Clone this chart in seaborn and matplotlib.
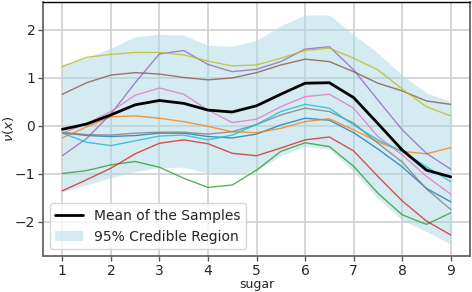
import matplotlib
matplotlib.use("Agg")
import matplotlib.pyplot as plt
import pandas as pd
import seaborn as sns

# values at half-unit steps of sugar
sugar = [1, 1.5, 2, 2.5, 3, 3.5, 4, 4.5, 5, 5.5, 6, 6.5, 7, 7.5, 8, 8.5, 9]

s_blue = [-0.14, -0.20, -0.22, -0.20, -0.15, -0.15, -0.22, -0.25, -0.17, 0.02, 0.16, 0.12, -0.14, -0.48, -0.85, -1.30, -1.58]
s_orange = [-0.25, -0.02, 0.19, 0.21, 0.16, 0.09, -0.01, -0.12, -0.14, -0.05, 0.09, 0.15, -0.08, -0.33, -0.53, -0.58, -0.45]
s_green = [-0.99, -0.93, -0.81, -0.74, -0.86, -1.09, -1.28, -1.23, -0.92, -0.53, -0.35, -0.43, -0.84, -1.40, -1.85, -2.05, -1.81]
s_red = [-1.35, -1.12, -0.88, -0.58, -0.36, -0.29, -0.37, -0.57, -0.62, -0.46, -0.29, -0.23, -0.52, -1.05, -1.56, -1.98, -2.27]
s_purple = [-0.62, -0.26, 0.25, 0.90, 1.50, 1.57, 1.28, 1.13, 1.18, 1.34, 1.60, 1.65, 1.17, 0.54, -0.08, -0.57, -0.90]
s_brown = [0.66, 0.90, 1.06, 1.11, 1.08, 1.01, 0.96, 1.00, 1.11, 1.27, 1.39, 1.34, 1.13, 0.89, 0.73, 0.52, 0.45]
s_pink = [-0.15, 0.05, 0.30, 0.64, 0.79, 0.66, 0.33, 0.07, 0.14, 0.40, 0.61, 0.66, 0.37, -0.22, -0.60, -1.05, -1.42]
s_gray = [-0.14, -0.18, -0.19, -0.15, -0.13, -0.13, -0.17, -0.12, 0.03, 0.23, 0.37, 0.30, 0.06, -0.36, -0.75, -1.31, -1.74]
s_olive = [1.24, 1.43, 1.49, 1.53, 1.53, 1.48, 1.35, 1.25, 1.27, 1.41, 1.57, 1.62, 1.41, 1.17, 0.77, 0.40, 0.21]
s_cyan = [-0.15, -0.34, -0.41, -0.31, -0.21, -0.19, -0.29, -0.19, 0.03, 0.30, 0.45, 0.37, 0.02, -0.29, -0.53, -0.85, -1.16]

mean_curve = [-0.07, 0.04, 0.23, 0.44, 0.53, 0.47, 0.33, 0.29, 0.42, 0.66, 0.89, 0.90, 0.59, 0.05, -0.50, -0.92, -1.06]
band_upper = [1.27, 1.42, 1.62, 1.86, 1.91, 1.89, 1.68, 1.66, 1.78, 2.09, 2.31, 2.31, 1.90, 1.52, 1.06, 0.69, 0.51]
band_lower = [-1.37, -1.23, -1.08, -0.95, -0.87, -0.86, -0.98, -1.01, -0.93, -0.62, -0.43, -0.48, -0.95, -1.51, -1.96, -2.20, -2.46]

samples = [s_blue, s_orange, s_green, s_red, s_purple,
           s_brown, s_pink, s_gray, s_olive, s_cyan]

sns.set_style("whitegrid")
plt.rcParams["font.family"] = ["DejaVu Sans"]

frames = []
for i, vals in enumerate(samples):
    frames.append(pd.DataFrame({"sugar": sugar, "nu": vals, "sample": i}))
df = pd.concat(frames, ignore_index=True)

fig, ax = plt.subplots(figsize=(4.72, 2.92), dpi=100)
fig.subplots_adjust(left=0.091, right=0.996, top=0.993, bottom=0.123)

ax.fill_between(sugar, band_lower, band_upper, color="lightblue", alpha=0.5,
                linewidth=0, label="95% Credible Region")
sns.lineplot(data=df, x="sugar", y="nu", hue="sample", palette="tab10",
             linewidth=1, alpha=0.8, legend=False, ax=ax)
sns.lineplot(x=sugar, y=mean_curve, color="black", linewidth=2,
             label="Mean of the Samples", ax=ax)

ax.set_xlim(0.6, 9.4)
ax.set_ylim(-2.71, 2.58)
ax.set_xticks(range(1, 10))
ax.set_yticks([-2, -1, 0, 1, 2])
ax.set_xlabel("sugar", fontsize=9, labelpad=0)
ax.set_ylabel(r"$\nu(x)$", fontsize=9.5)
ax.yaxis.set_label_coords(-0.064, 0.5)
ax.tick_params(axis="both", labelsize=10, length=3.5, width=1, color="#555555",
               pad=2, left=True, bottom=True)
ax.grid(True, color="#d0d0d0", linewidth=1.2)

for side in ["left", "right", "bottom"]:
    ax.spines[side].set_color("#666666")
    ax.spines[side].set_linewidth(1.3)
ax.spines["top"].set_color("black")
ax.spines["top"].set_linewidth(1)

handles, labels = ax.get_legend_handles_labels()
order = [labels.index("Mean of the Samples"), labels.index("95% Credible Region")]
ax.legend([handles[i] for i in order], [labels[i] for i in order],
          loc="lower left", fontsize=10, frameon=True, borderaxespad=0.5)

fig.savefig("out.png", dpi=100)
